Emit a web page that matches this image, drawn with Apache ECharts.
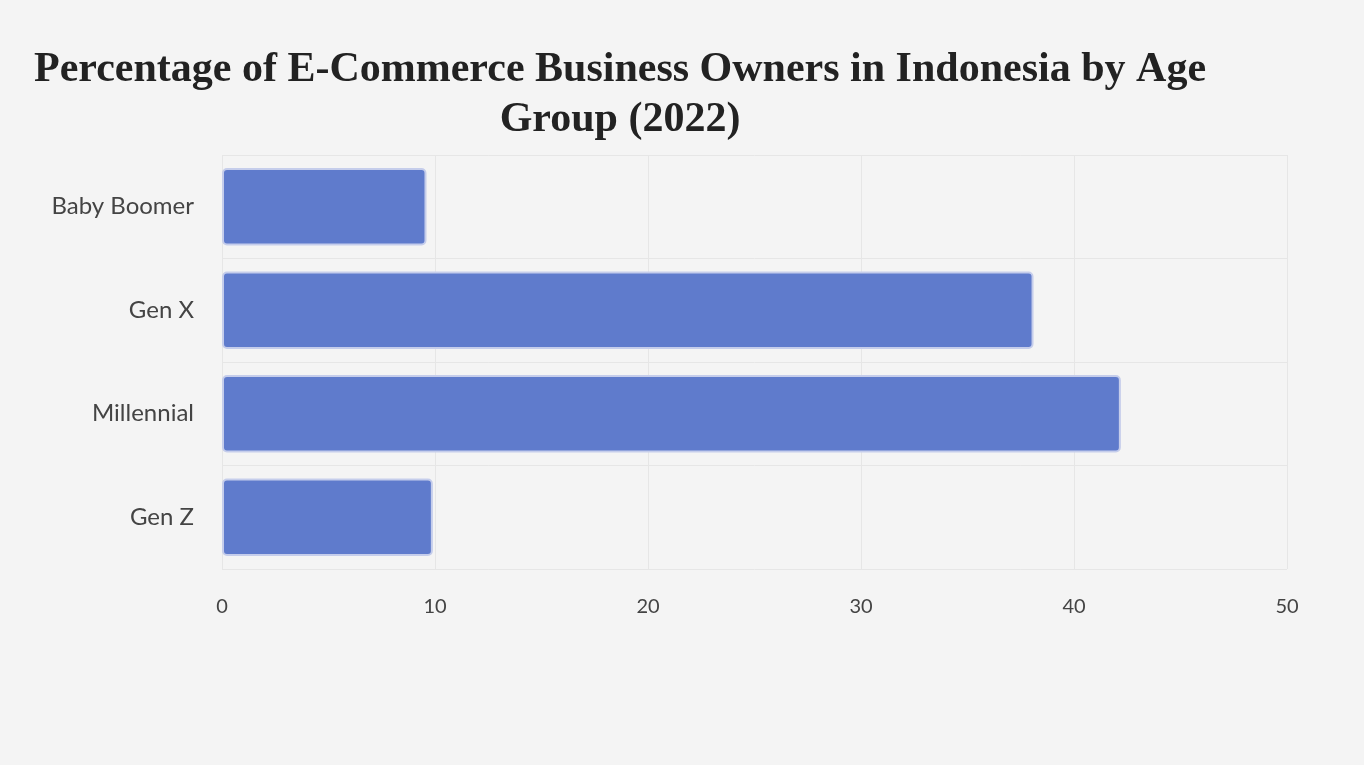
<!DOCTYPE html>
<html>
<head>
<meta charset="utf-8">
<script src="https://cdn.jsdelivr.net/npm/echarts@6/dist/echarts.min.js"></script>
<style>
  html, body { margin: 0; padding: 0; background: #f4f4f4; }
  #main { width: 1364px; height: 765px; }
</style>
</head>
<body>
<div id="main"></div>
<script>
var titleText = 'Percentage of E-Commerce Business Owners in Indonesia by Age\nGroup (2022)';
var categories = ['Gen Z', 'Millennial', 'Gen X', 'Baby Boomer'];
var values = [9.9, 42.2, 38.1, 9.6];
var xTicks = [0, 10, 20, 30, 40, 50];

var myChart = echarts.init(document.getElementById('main'));
option = {
    backgroundColor: '#f4f4f4',
    title: {
        text: titleText,
        left: 615,
        top: 40,
        textAlign: 'center',
        textStyle: {
            fontFamily: 'Liberation Serif',
            fontWeight: 'bold',
            fontSize: 42,
            lineHeight: 50,
            color: '#222'
        }
    },
    grid: {
        left: 222,
        right: 77,
        top: 155,
        bottom: 196
    },
    xAxis: {
        type: 'value',
        min: xTicks[0],
        max: xTicks[xTicks.length - 1],
        interval: 10,
        axisLine: { show: false },
        axisTick: { show: false },
        axisLabel: { color: '#444', fontSize: 20, margin: 28, fontFamily: 'Lato' },
        splitLine: { lineStyle: { color: '#e6e6e6' } }
    },
    yAxis: {
        type: 'category',
        data: categories,
        axisLine: { show: false },
        axisTick: { show: false },
        axisLabel: { color: '#444', fontSize: 24, margin: 28, fontFamily: 'Lato' },
        splitLine: { show: true, lineStyle: { color: '#e6e6e6' } }
    },
    series: [
        {
            type: 'bar',
            data: values,
            barWidth: '75%',
            itemStyle: {
                color: '#5f7bcc',
                borderColor: '#c5cdeb',
                borderWidth: 2,
                borderRadius: 4
            }
        }
    ]
};
myChart.setOption(option);
</script>
</body>
</html>
